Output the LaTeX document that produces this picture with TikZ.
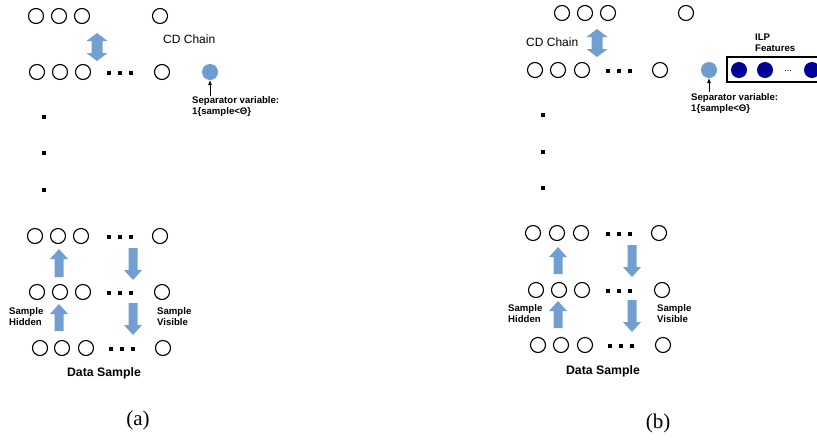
\documentclass[tikz,border=0pt]{standalone}
\usepackage{fontspec}
\setmainfont{Liberation Sans}
\newfontfamily\capserif{Liberation Serif}
\usetikzlibrary{arrows.meta}
\definecolor{arrowblue}{RGB}{114,159,207}
\definecolor{sepblue}{RGB}{110,155,208}
\definecolor{ilpnavy}{RGB}{0,0,150}
\tikzset{
  unit/.style={circle, draw=black, line width=1.1pt, minimum size=15pt, inner sep=0pt},
  sepunit/.style={circle, fill=sepblue, minimum size=16pt, inner sep=0pt},
  ilpunit/.style={circle, fill=ilpnavy, minimum size=16pt, inner sep=0pt},
  smalllab/.style={font=\fontsize{9.6}{11}\selectfont\bfseries, align=left, inner sep=0pt, anchor=north west},
  chainlab/.style={font=\fontsize{12}{14}\selectfont, inner sep=0pt, anchor=west},
  datalab/.style={font=\fontsize{12.3}{14}\selectfont\bfseries, inner sep=0pt},
  panellab/.style={font=\capserif\fontsize{21}{24}\selectfont, inner sep=0pt},
  seplink/.style={line width=0.6pt, -{Latex[length=5pt,width=4pt]}},
  blk/.style={fill=arrowblue}
}
\newcommand\hdotsrow[2]{\foreach \k in {0,11,22}{\fill (#1+\k-2,#2-2) rectangle (#1+\k+2,#2+2);}}
\newcommand\vdot[2]{\fill (#1-1.8,#2-1.8) rectangle (#1+1.8,#2+1.8);}
\newcommand\upblk[3]{\fill[blk] (#1-4.5,#3) -- (#1-4.5,#2+10) -- (#1-9,#2+10) -- (#1,#2) -- (#1+9,#2+10) -- (#1+4.5,#2+10) -- (#1+4.5,#3) -- cycle;}
\newcommand\downblk[3]{\fill[blk] (#1-4.5,#2) -- (#1-4.5,#3-10) -- (#1-9,#3-10) -- (#1,#3) -- (#1+9,#3-10) -- (#1+4.5,#3-10) -- (#1+4.5,#2) -- cycle;}
\newcommand\dblblk[3]{\fill[blk] (#1,#2) -- (#1+10.5,#2+8) -- (#1+5.5,#2+8) -- (#1+5.5,#3-8) -- (#1+10.5,#3-8) -- (#1,#3) -- (#1-10.5,#3-8) -- (#1-5.5,#3-8) -- (#1-5.5,#2+8) -- (#1-10.5,#2+8) -- cycle;}
\begin{document}
\begin{tikzpicture}[x=1pt,y=-1pt]
\useasboundingbox (0,0) rectangle (817,440);
\clip (0,0) rectangle (817,440);

% ================= Panel (a) =================
% row 1
\node[unit] (a11) at (36,16) {};
\node[unit] (a12) at (59,16) {};
\node[unit] (a13) at (82,16) {};
\node[unit] (a14) at (160,16) {};
\dblblk{97}{33}{61}
\node[chainlab] (acd) at (163,39) {CD Chain};
% row 2
\node[unit] (a21) at (37,72) {};
\node[unit] (a22) at (60,72) {};
\node[unit] (a23) at (83,72) {};
\hdotsrow{109}{73}
\node[unit] (a24) at (162,72) {};
\node[sepunit] (asep) at (210,72) {};
\coordinate (asept) at (210,96);
\draw[seplink] (asept) -- (asep.south);
\node[smalllab] (aseplab) at (192,96) {Separator variable:\\1\{sample<Θ\}};
% vertical dots
\vdot{44}{117}
\vdot{44}{153}
\vdot{44}{190}
% row 3
\node[unit] (a31) at (35,236) {};
\node[unit] (a32) at (58,236) {};
\node[unit] (a33) at (81,236) {};
\hdotsrow{109}{237}
\node[unit] (a34) at (160,236) {};
\upblk{59}{249}{277}
\downblk{133}{248}{280}
% row 4
\node[unit] (a41) at (37,292) {};
\node[unit] (a42) at (60,292) {};
\node[unit] (a43) at (83,292) {};
\hdotsrow{109}{293}
\node[unit] (a44) at (162,292) {};
\upblk{59}{304}{331}
\downblk{133}{303}{335}
\node[smalllab] (ahid) at (9,307) {Sample\\Hidden};
\node[smalllab] (avis) at (157,307) {Sample\\Visible};
% row 5
\node[unit] (a51) at (40,348) {};
\node[unit] (a52) at (62,348) {};
\node[unit] (a53) at (86,348) {};
\hdotsrow{111}{349}
\node[unit] (a54) at (163,348) {};
\node[datalab] (adata) at (104,373) {Data Sample};
\node[panellab] (apanel) at (138,420) {(a)};

% ================= Panel (b) =================
% row 1
\node[unit] (b11) at (562,13) {};
\node[unit] (b12) at (585,13) {};
\node[unit] (b13) at (608,13) {};
\node[unit] (b14) at (686,13) {};
\dblblk{597}{29}{57}
\node[chainlab] (bcd) at (526,42) {CD Chain};
% row 2
\node[unit] (b21) at (535,70) {};
\node[unit] (b22) at (558,70) {};
\node[unit] (b23) at (582,70) {};
\hdotsrow{608}{71}
\node[unit] (b24) at (660,70) {};
\node[sepunit] (bsep) at (709,70) {};
\coordinate (bsept) at (709,92);
\draw[seplink] (bsept) -- (bsep.south);
\node[smalllab] (bseplab) at (691,93) {Separator variable:\\1\{sample<Θ\}};
% ILP feature box
\draw[line width=1.1pt] (727,57) rectangle (840,82);
\node[ilpunit] (bilp1) at (739,70) {};
\node[ilpunit] (bilp2) at (765,70) {};
\node[font=\fontsize{9}{10}\selectfont, inner sep=0pt] (bilpd) at (788,71) {...};
\node[ilpunit] (bilp3) at (812,70) {};
\node[smalllab] (bilplab) at (755,34) {ILP\\Features};
% vertical dots
\vdot{543}{115}
\vdot{543}{152}
\vdot{543}{188}
% row 3
\node[unit] (b31) at (533,233) {};
\node[unit] (b32) at (557,233) {};
\node[unit] (b33) at (581,233) {};
\hdotsrow{608}{234}
\node[unit] (b34) at (659,233) {};
\upblk{558}{247}{274}
\downblk{632}{245}{277}
% row 4
\node[unit] (b41) at (536,290) {};
\node[unit] (b42) at (559,290) {};
\node[unit] (b43) at (582,290) {};
\hdotsrow{608}{291}
\node[unit] (b44) at (662,290) {};
\upblk{558}{301}{328}
\downblk{632}{300}{332}
\node[smalllab] (bhid) at (508,304) {Sample\\Hidden};
\node[smalllab] (bvis) at (657,304) {Sample\\Visible};
% row 5
\node[unit] (b51) at (538,345) {};
\node[unit] (b52) at (561,345) {};
\node[unit] (b53) at (585,345) {};
\hdotsrow{610}{346}
\node[unit] (b54) at (663,345) {};
\node[datalab] (bdata) at (603,371) {Data Sample};
\node[panellab] (bpanel) at (658,423) {(b)};
\end{tikzpicture}
\end{document}
